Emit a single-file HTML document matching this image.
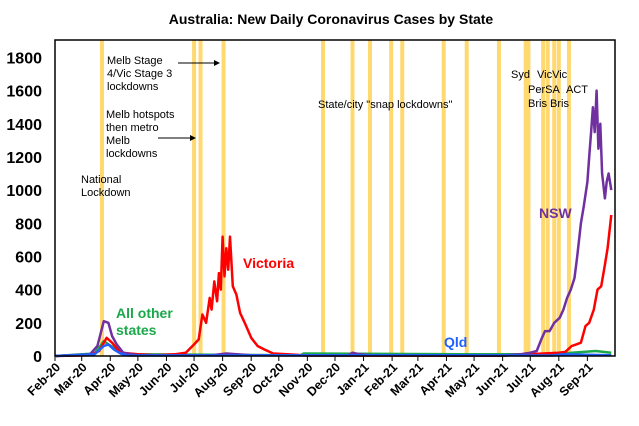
<!DOCTYPE html>
<html><head><meta charset="utf-8"><style>
body{margin:0;background:#fff;font-family:"Liberation Sans",Arial,sans-serif}
svg text{font-family:"Liberation Sans",Arial,sans-serif}
</style></head><body>
<svg id="c" width="639" height="421"></svg>
<script>
const months=["Feb-20","Mar-20","Apr-20","May-20","Jun-20","Jul-20","Aug-20","Sep-20","Oct-20","Nov-20","Dec-20","Jan-21","Feb-21","Mar-21","Apr-21","May-21","Jun-21","Jul-21","Aug-21","Sep-21"];
const yTicks=[0,200,400,600,800,1000,1200,1400,1600,1800];
const lockdowns=["2020-03-23","2020-07-01","2020-07-08","2020-08-02","2020-11-18","2020-12-20","2021-01-08","2021-01-31","2021-02-12","2021-03-29","2021-04-23","2021-05-28","2021-06-26","2021-06-29","2021-07-15","2021-07-20","2021-07-27","2021-08-01","2021-08-12"];
const vicDates=["2020-02-01","2020-03-10","2020-03-20","2020-03-28","2020-04-03","2020-04-12","2020-05-01","2020-05-20","2020-06-10","2020-06-22","2020-07-01","2020-07-06","2020-07-10","2020-07-14","2020-07-18","2020-07-20","2020-07-23","2020-07-26","2020-07-28","2020-07-30","2020-08-01","2020-08-03","2020-08-05","2020-08-07","2020-08-09","2020-08-12","2020-08-16","2020-08-20","2020-08-25","2020-09-01","2020-09-08","2020-09-15","2020-09-25","2020-10-10","2020-11-01","2021-06-01","2021-07-15","2021-08-01","2021-08-08","2021-08-15","2021-08-20","2021-08-25","2021-08-30","2021-09-03","2021-09-08","2021-09-12","2021-09-16","2021-09-20","2021-09-23","2021-09-27"];
const vicVals=[0,5,30,110,80,20,10,5,10,20,70,100,250,200,350,280,450,330,500,400,720,480,650,520,720,420,370,260,200,110,60,40,15,10,3,2,15,20,25,60,70,80,180,200,280,400,420,550,650,850];
const nswDates=["2020-02-01","2020-03-10","2020-03-18","2020-03-25","2020-03-30","2020-04-03","2020-04-08","2020-04-15","2020-05-01","2020-07-20","2020-08-05","2020-09-01","2020-12-15","2020-12-20","2020-12-28","2021-01-10","2021-06-01","2021-06-20","2021-07-01","2021-07-08","2021-07-13","2021-07-17","2021-07-22","2021-07-27","2021-08-02","2021-08-06","2021-08-10","2021-08-14","2021-08-18","2021-08-21","2021-08-25","2021-08-28","2021-09-01","2021-09-03","2021-09-05","2021-09-07","2021-09-09","2021-09-11","2021-09-13","2021-09-15","2021-09-17","2021-09-20","2021-09-22","2021-09-24","2021-09-27"];
const nswVals=[0,10,60,210,200,120,70,20,5,5,15,5,3,20,10,5,3,10,20,30,100,150,150,200,230,280,350,400,470,600,800,900,1050,1200,1350,1500,1350,1600,1250,1400,1100,950,1050,1100,1000];
const qldDates=["2020-02-01","2020-03-15","2020-03-25","2020-03-30","2020-04-05","2020-04-12","2020-04-20","2021-04-01","2021-07-25","2021-08-05","2021-09-27"];
const qldVals=[0,10,60,70,40,15,3,5,3,10,5];
const othDates=["2020-02-01","2020-03-15","2020-03-25","2020-03-30","2020-04-05","2020-04-12","2020-04-22","2020-10-25","2020-10-28","2021-04-20","2021-08-01","2021-08-15","2021-09-10","2021-09-27"];
const othVals=[0,15,90,70,50,25,10,5,15,10,10,20,30,20];

const svg=document.getElementById('c');
const NS='http://www.w3.org/2000/svg';
const L=55,R=615,T=40,B=356,YMAX=1905;
const t0=Date.UTC(2020,1,1),t1=Date.UTC(2021,9,1);
function dayOf(s){const p=s.split('-');return Date.UTC(+p[0],+p[1]-1,+p[2]);}
function xS(s){return L+(dayOf(s)-t0)/(t1-t0)*(R-L);}
function xMonth(i){const m0=1+i;return L+(Date.UTC(2020+Math.floor(m0/12),m0%12,1)-t0)/(t1-t0)*(R-L);}
function yS(v){return B-v/YMAX*(B-T);}
function mk(tag,attrs){const e=document.createElementNS(NS,tag);for(const k in attrs)e.setAttribute(k,attrs[k]);svg.appendChild(e);return e;}

let e=mk('rect',{x:0,y:0,width:639,height:421,fill:'#fff'});

e=mk('text',{x:331,y:24,'text-anchor':'middle','font-size':14,'font-weight':'bold'});e.textContent='Australia: New Daily Coronavirus Cases by State';


lockdowns.forEach(d=>{const x=xS(d);const r=mk('rect',{x:x-2,y:T,width:4,height:B-T,fill:'#ffd970'});
});

yTicks.forEach(v=>{const t=mk('text',{x:42,y:yS(v)+6,'text-anchor':'end','font-size':16,'font-weight':'bold'});t.textContent=v;
});
months.forEach((m,i)=>{const xx=xMonth(i);
const tk=mk('line',{x1:xx,y1:B,x2:xx,y2:B+5,stroke:'#000'});
const ax=xx+6,ay=B+12;
const t=mk('text',{x:ax,y:ay,'text-anchor':'end','font-size':12.5,'font-weight':'bold',transform:`rotate(-45 ${ax} ${ay})`});t.textContent=m;
});

function series(ds,vs,col,name){const pts=ds.map((d,i)=>xS(d).toFixed(1)+','+yS(vs[i]).toFixed(1)).join(' ');
const p=mk('polyline',{points:pts,fill:'none',stroke:col,'stroke-width':2.5,'stroke-linejoin':'round'});
}
series(othDates,othVals,'#1aa84a','line-other-states');
series(vicDates,vicVals,'#ff0000','line-victoria');
series(nswDates,nswVals,'#7030a0','line-nsw');
series(qldDates,qldVals,'#2060ff','line-qld');

e=mk('rect',{x:L,y:T,width:R-L,height:B-T,fill:'none',stroke:'#000','stroke-width':1.5});


function lbl(x,y,txt,col,sz,bold,name){const t=mk('text',{x:x,y:y,'font-size':sz,fill:col,'font-weight':bold?'bold':'normal'});t.textContent=txt;
}
lbl(81,183,'National','#000',11,false,'annotation-national');
lbl(81,196,'Lockdown','#000',11,false,'annotation-national');
lbl(107,64,'Melb Stage','#000',11,false,'annotation-stage4');
lbl(107,77,'4/Vic Stage 3','#000',11,false,'annotation-stage4');
lbl(107,90,'lockdowns','#000',11,false,'annotation-stage4');
lbl(106,118,'Melb hotspots','#000',11,false,'annotation-hotspots');
lbl(106,131,'then metro','#000',11,false,'annotation-hotspots');
lbl(106,144,'Melb','#000',11,false,'annotation-hotspots');
lbl(106,157,'lockdowns','#000',11,false,'annotation-hotspots');
lbl(318,108,'State/city "snap lockdowns"','#000',11,false,'annotation-snap');
lbl(511,78,'Syd','#000',11,false,'annotation-syd');
lbl(537,78,'VicVic','#000',11,false,'annotation-vic');
lbl(528,93,'PerSA','#000',11,false,'annotation-per-sa');
lbl(566,93,'ACT','#000',11,false,'annotation-act');
lbl(528,107,'Bris Bris','#000',11,false,'annotation-bris');
lbl(243,268,'Victoria','#ff0000',14,true,'label-victoria');
lbl(539,218,'NSW','#7030a0',14,true,'label-nsw');
lbl(444,347,'Qld','#2060ff',14,true,'label-qld');
lbl(116,318,'All other','#1aa84a',14,true,'label-other-states');
lbl(116,335,'states','#1aa84a',14,true,'label-other-states');
function arrow(x1,y,x2,name){const l=mk('line',{x1:x1,y1:y,x2:x2-5,y2:y,stroke:'#000','stroke-width':1});
const h=mk('polygon',{points:`${x2},${y} ${x2-6},${y-3} ${x2-6},${y+3}`,fill:'#000'});}
arrow(178,63,220,'arrow-stage4');
arrow(158,138,196,'arrow-hotspots');
</script></body></html>
